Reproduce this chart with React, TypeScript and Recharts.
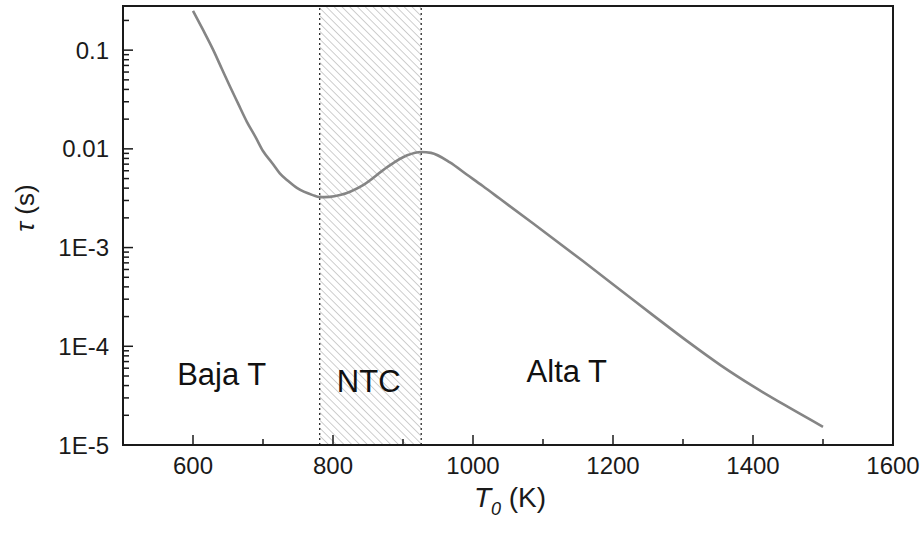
import React from 'react';
import { LineChart, Line, XAxis, YAxis, ReferenceArea, ReferenceLine, ReferenceDot } from 'recharts';

// tau(T0)
const tempK = [600, 614, 629, 641, 653, 664, 677, 689, 700, 713, 724, 736, 749, 771, 781, 795, 810, 843, 877, 906, 926, 940, 967, 991, 1014, 1039, 1086, 1157, 1229, 1257, 1306, 1354, 1401, 1450, 1500];
const tauS = [0.25, 0.162, 0.1, 0.0652, 0.0425, 0.0292, 0.0188, 0.0133, 0.0095, 0.0072, 0.00565, 0.00472, 0.004, 0.0034, 0.00324, 0.00326, 0.0034, 0.0043, 0.0065, 0.0086, 0.0093, 0.0091, 0.0073, 0.0055, 0.0042, 0.0031, 0.00175, 0.00073, 0.000294, 0.000207, 0.0001127, 0.0000641, 0.000039, 0.0000243, 0.0000153];

const xMajor = [600, 800, 1000, 1200, 1400, 1600];
const xMinor = [700, 900, 1100, 1300, 1500];
const yMajor = [1e-5, 1e-4, 1e-3, 0.01, 0.1];
const yLabels = ['1E-5', '1E-4', '1E-3', '0.01', '0.1'];
const yDecades = [1e-5, 1e-4, 1e-3, 0.01];
const yMultipliers = [2, 3, 4, 5, 6, 7, 8, 9];
const yMinor = [...yDecades.flatMap(d => yMultipliers.map(m => m * d)), 0.2];

const ntcRange = [781, 926];
const regionLabels = [
  { text: 'Baja T', x: 641, y: 5.2e-5 },
  { text: 'NTC', x: 851, y: 4.4e-5 },
  { text: 'Alta T', x: 1134, y: 5.6e-5 },
];

const data = tempK.map((t, i) => ({ t, tau: tauS[i] }));

const PLOT_LEFT = 123;
const PLOT_BOTTOM = 445;
const INK = '#1a1a1a';
const FONT = '"Liberation Sans", Arial, sans-serif';

const yLabelFor = (v: number) => {
  const idx = yMajor.findIndex(m => Math.abs(Math.log10(m) - Math.log10(v)) < 1e-6);
  return idx >= 0 ? yLabels[idx] : null;
};

const YTick = (props: any) => {
  const { y, payload } = props;
  const lbl = yLabelFor(payload.value);
  const len = lbl ? 10 : 6;
  return (
    <g>
      <line x1={PLOT_LEFT} x2={PLOT_LEFT + len} y1={y} y2={y} stroke={INK} strokeWidth={1.5} />
      {lbl && (
        <text x={PLOT_LEFT - 14} y={y} textAnchor="end" dominantBaseline="central" fontSize={24} fill={INK} fontFamily={FONT}>
          {lbl}
        </text>
      )}
    </g>
  );
};

const XTick = (props: any) => {
  const { x, payload } = props;
  const major = xMajor.includes(payload.value);
  const len = major ? 10 : 6;
  return (
    <g>
      {payload.value < 1600 && (
        <line x1={x} x2={x} y1={PLOT_BOTTOM} y2={PLOT_BOTTOM - len} stroke={INK} strokeWidth={1.5} />
      )}
      {major && (
        <text x={x} y={PLOT_BOTTOM + 29} textAnchor="middle" fontSize={24} fill={INK} fontFamily={FONT}>
          {payload.value}
        </text>
      )}
    </g>
  );
};

const App: React.FC = () => {
  return (
    <div style={{ position: 'absolute', left: 0, top: 0, background: '#fff' }}>
      <LineChart width={923} height={535} data={data} margin={{ top: 6, right: 30, left: 23, bottom: 30 }}>
        <defs>
          <pattern id="hatch" width="5.5" height="5.5" patternUnits="userSpaceOnUse" patternTransform="rotate(-45)">
            <line x1="0" y1="0" x2="0" y2="5.5" stroke="#b4b4b4" strokeWidth={1.3} />
          </pattern>
        </defs>
        <XAxis
          dataKey="t"
          type="number"
          domain={[500, 1600]}
          ticks={[...xMajor, ...xMinor].sort((a, b) => a - b)}
          interval={0}
          height={60}
          tickLine={false}
          axisLine={{ stroke: INK, strokeWidth: 2 }}
          tick={<XTick />}
          label={{
            content: () => (
              <text x={510} y={507} textAnchor="middle" fontSize={28} fill={INK} fontFamily={FONT}>
                <tspan fontStyle="italic">T</tspan>
                <tspan fontStyle="italic" fontSize={18} dy={8}>0</tspan>
                <tspan dy={-8}> (K)</tspan>
              </text>
            ),
          }}
        />
        <YAxis
          type="number"
          scale="log"
          domain={[1e-5, 0.28]}
          allowDataOverflow
          ticks={[...yMajor, ...yMinor].sort((a, b) => a - b)}
          interval={0}
          width={100}
          tickLine={false}
          axisLine={{ stroke: INK, strokeWidth: 2 }}
          tick={<YTick />}
          label={{
            content: () => (
              <text x={34} y={208} transform="rotate(-90 34 208)" textAnchor="middle" fontSize={26} fill={INK} fontFamily={FONT}>
                <tspan fontStyle="italic">τ</tspan>
                <tspan> (s)</tspan>
              </text>
            ),
          }}
        />
        <ReferenceArea x1={ntcRange[0]} x2={ntcRange[1]} y1={1e-5} y2={0.28} fill="url(#hatch)" fillOpacity={1} stroke="none" />
        <ReferenceLine x={ntcRange[0]} stroke={INK} strokeWidth={1.2} strokeDasharray="2 3" />
        <ReferenceLine x={ntcRange[1]} stroke={INK} strokeWidth={1.2} strokeDasharray="2 3" />
        <ReferenceArea x1={500} x2={1600} y1={1e-5} y2={0.28} fill="none" stroke={INK} strokeWidth={2} />
        <Line type="monotone" dataKey="tau" stroke="#858585" strokeWidth={2.6} dot={false} isAnimationActive={false} />
        {regionLabels.map(r => (
          <ReferenceDot
            key={r.text}
            x={r.x}
            y={r.y}
            r={0}
            fill="none"
            stroke="none"
            label={{ value: r.text, position: 'center', fontSize: 31, fill: '#111', fontFamily: FONT }}
          />
        ))}
      </LineChart>
    </div>
  );
};

export default App;
